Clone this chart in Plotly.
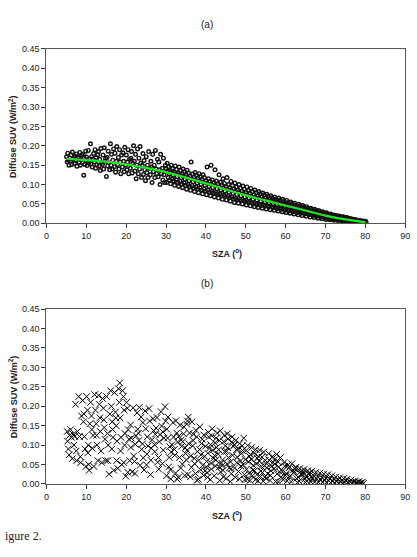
import plotly.graph_objects as go

# ---------------- Panel (a): diffuse SUV vs SZA (open circles) ----------------
sza_a = [
 5.05,5.2,5.35,5.5,5.65,5.85, 6.05,6.2,6.35,6.5,6.65,6.85, 7.05,7.2,7.35,7.5,7.65,7.85,
 8.05,8.2,8.35,8.5,8.65,8.85, 9.05,9.2,9.35,9.5,9.65,9.85, 10.05,10.2,10.35,10.5,10.65,10.85,
 11.05,11.2,11.35,11.5,11.65,11.85, 12.05,12.2,12.35,12.5,12.65,12.85, 13.05,13.2,13.35,13.5,13.65,13.85,
 14.05,14.2,14.35,14.5,14.65,14.85, 15.05,15.2,15.35,15.5,15.65,15.85, 16.05,16.2,16.35,16.5,16.65,16.85,
 17.05,17.2,17.35,17.5,17.65,17.85, 18.05,18.2,18.35,18.5,18.65,18.85, 19.05,19.2,19.35,19.5,19.65,19.85,
 20.05,20.2,20.35,20.5,20.65,20.85, 21.05,21.2,21.35,21.5,21.65,21.85, 22.05,22.2,22.35,22.5,22.65,22.85,
 23.05,23.2,23.35,23.5,23.65,23.85, 24.05,24.2,24.35,24.5,24.65,24.85, 25.05,25.2,25.35,25.5,25.65,25.85,
 26.05,26.2,26.35,26.5,26.65,26.85, 27.05,27.2,27.35,27.5,27.65,27.85, 28.05,28.2,28.35,28.5,28.65,28.85,
 29.05,29.2,29.35,29.5,29.65,29.85,
 30.05,30.55,30.3,30.8,30.15,30.65,30.4,30.9, 31.05,31.55,31.3,31.8,31.15,31.65,31.4,31.9,
 32.05,32.55,32.3,32.8,32.15,32.65,32.4,32.9, 33.05,33.55,33.3,33.8,33.15,33.65,33.4,33.9,
 34.05,34.55,34.3,34.8,34.15,34.65,34.4,34.9, 35.05,35.55,35.3,35.8,35.15,35.65,35.4,35.9,
 36.05,36.55,36.3,36.8,36.15,36.65,36.4,36.9, 37.05,37.55,37.3,37.8,37.15,37.65,37.4,37.9,
 38.05,38.55,38.3,38.8,38.15,38.65,38.4,38.9, 39.05,39.55,39.3,39.8,39.15,39.65,39.4,39.9,
 40.05,40.55,40.3,40.8,40.15,40.65,40.4,40.9, 41.05,41.55,41.3,41.8,41.15,41.65,41.4,41.9,
 42.05,42.55,42.3,42.8,42.15,42.65,42.4,42.9, 43.05,43.55,43.3,43.8,43.15,43.65,43.4,43.9,
 44.05,44.55,44.3,44.8,44.15,44.65,44.4,44.9, 45.05,45.55,45.3,45.8,45.15,45.65,45.4,45.9,
 46.05,46.55,46.3,46.8,46.15,46.65,46.4,46.9, 47.05,47.55,47.3,47.8,47.15,47.65,47.4,47.9,
 48.05,48.55,48.3,48.8,48.15,48.65,48.4,48.9, 49.05,49.55,49.3,49.8,49.15,49.65,49.4,49.9,
 50.05,50.55,50.3,50.8,50.15,50.65,50.4,50.9, 51.05,51.55,51.3,51.8,51.15,51.65,51.4,51.9,
 52.05,52.55,52.3,52.8,52.15,52.65,52.4,52.9, 53.05,53.55,53.3,53.8,53.15,53.65,53.4,53.9,
 54.05,54.55,54.3,54.8,54.15,54.65,54.4,54.9, 55.05,55.55,55.3,55.8,55.15,55.65,55.4,55.9,
 56.05,56.55,56.3,56.8,56.15,56.65,56.4,56.9, 57.05,57.55,57.3,57.8,57.15,57.65,57.4,57.9,
 58.05,58.55,58.3,58.8,58.15,58.65,58.4,58.9, 59.05,59.55,59.3,59.8,59.15,59.65,59.4,59.9,
 60.05,60.55,60.3,60.8,60.15,60.65,60.4,60.9, 61.05,61.55,61.3,61.8,61.15,61.65,61.4,61.9,
 62.05,62.55,62.3,62.8,62.15,62.65,62.4,62.9, 63.05,63.55,63.3,63.8,63.15,63.65,63.4,63.9,
 64.05,64.55,64.3,64.8,64.15,64.65,64.4,64.9, 65.05,65.55,65.3,65.8,65.15,65.65,65.4,65.9,
 66.05,66.55,66.3,66.8,66.15,66.65,66.4,66.9, 67.05,67.55,67.3,67.8,67.15,67.65,67.4,67.9,
 68.05,68.55,68.3,68.8,68.15,68.65,68.4,68.9, 69.05,69.55,69.3,69.8,69.15,69.65,69.4,69.9,
 70.05,70.55,70.3,70.8,70.15,70.65,70.4,70.9, 71.05,71.55,71.3,71.8,71.15,71.65,71.4,71.9,
 72.05,72.55,72.3,72.8,72.15,72.65,72.4,72.9, 73.05,73.55,73.3,73.8,73.15,73.65,73.4,73.9,
 74.05,74.55,74.3,74.8,74.15,74.65,74.4,74.9, 75.05,75.55,75.3,75.8,75.15,75.65,75.4,75.9,
 76.05,76.55,76.3,76.8,76.15,76.65,76.4,76.9, 77.05,77.55,77.3,77.8,77.15,77.65,77.4,77.9,
 78.05,78.55,78.3,78.8,78.15,78.65,78.4,78.9, 79.05,79.55,79.3,79.8,79.15,79.65,79.4,79.9,
 80.0,80.1,80.2,
]
suv_a = [
 .172,.158,.181,.163,.150,.168, .160,.176,.152,.184,.165,.170, .155,.173,.162,.179,.147,.168,
 .170,.157,.183,.150,.164,.176, .158,.178,.124,.168,.152,.186, .171,.149,.160,.188,.156,.166,
 .205,.153,.172,.145,.166,.180, .158,.190,.142,.170,.151,.176, .185,.148,.165,.136,.193,.157,
 .152,.176,.140,.195,.160,.168, .121,.170,.148,.186,.156,.138, .205,.150,.178,.140,.163,.192,
 .146,.181,.132,.160,.198,.152, .170,.140,.190,.158,.128,.176, .145,.182,.160,.133,.196,.150,
 .176,.138,.158,.190,.128,.165, .142,.168,.185,.130,.155,.200, .160,.135,.178,.115,.150,.192,
 .128,.168,.140,.198,.155,.118, .150,.180,.126,.162,.138,.110, .172,.131,.150,.118,.185,.142,
 .125,.160,.145,.105,.178,.133, .150,.118,.188,.140,.128,.165, .120,.158,.138,.100,.178,.128,
 .142,.112,.168,.125,.105,.150,
 .140,.118,.155,.128,.105,.146,.135,.112, .136,.115,.150,.124,.102,.142,.131,.110,
 .132,.112,.148,.120,.098,.139,.128,.106, .130,.108,.145,.118,.095,.136,.125,.102,
 .128,.104,.140,.114,.092,.133,.122,.098, .125,.100,.137,.110,.088,.130,.118,.095,
 .122,.097,.158,.107,.085,.127,.115,.092, .119,.094,.131,.104,.082,.124,.112,.089,
 .116,.091,.128,.101,.079,.121,.109,.086, .113,.088,.125,.098,.076,.118,.106,.083,
 .110,.085,.145,.095,.074,.115,.103,.080, .108,.082,.150,.092,.071,.112,.100,.078,
 .105,.079,.138,.089,.068,.109,.097,.075, .102,.076,.125,.086,.065,.106,.094,.072,
 .098,.073,.115,.083,.062,.103,.091,.069, .095,.070,.118,.080,.060,.100,.088,.066,
 .092,.067,.108,.077,.057,.097,.085,.063, .089,.064,.104,.074,.054,.094,.082,.060,
 .086,.061,.100,.071,.052,.091,.079,.058, .083,.058,.096,.068,.050,.088,.076,.055,
 .080,.056,.094,.065,.047,.085,.073,.053, .077,.053,.090,.062,.045,.082,.070,.050,
 .074,.051,.086,.060,.043,.079,.068,.048, .071,.049,.082,.057,.041,.076,.065,.046,
 .068,.047,.078,.055,.039,.073,.062,.044, .065,.045,.075,.052,.037,.070,.060,.042,
 .062,.043,.071,.050,.035,.066,.057,.040, .060,.041,.068,.047,.034,.063,.055,.038,
 .057,.039,.065,.045,.032,.060,.052,.036, .054,.037,.062,.043,.030,.057,.050,.034,
 .051,.035,.059,.040,.028,.054,.047,.032, .048,.033,.055,.038,.026,.051,.044,.030,
 .045,.031,.052,.036,.024,.048,.042,.028, .042,.029,.049,.033,.022,.045,.039,.026,
 .040,.027,.046,.031,.020,.042,.037,.024, .037,.025,.043,.029,.018,.039,.034,.022,
 .034,.023,.039,.026,.016,.036,.031,.020, .031,.021,.036,.024,.015,.033,.029,.018,
 .028,.019,.033,.022,.013,.030,.026,.016, .026,.017,.030,.020,.012,.027,.024,.014,
 .023,.015,.027,.018,.010,.024,.021,.012, .021,.013,.024,.016,.009,.022,.019,.011,
 .019,.012,.021,.014,.008,.020,.017,.010, .017,.010,.019,.012,.007,.018,.015,.009,
 .015,.009,.017,.011,.006,.016,.013,.008, .013,.007,.015,.009,.005,.014,.011,.006,
 .011,.006,.012,.007,.004,.011,.009,.005, .009,.005,.010,.006,.003,.009,.007,.004,
 .007,.004,.008,.005,.002,.007,.006,.003, .005,.003,.006,.004,.002,.005,.004,.003,
 .003,.005,.002,
]

# fitted curve (green) for panel (a)
sza_fit = [5, 10, 15, 20, 25, 30, 35, 40, 45, 50, 55, 60, 65, 70, 75, 80]
suv_fit = [.166, .163, .159, .152, .143, .132, .118, .103, .087, .072, .059, .046, .033, .020, .010, .003]

# ---------------- Panel (b): diffuse SUV vs SZA (crosses) ----------------
sza_b = [
 5.2,5.5,5.8,5.3,5.7, 6.1,6.3,6.5,6.7,6.9, 7.1,7.3,7.5,7.8,7.6, 8.1,8.3,8.5,8.8,8.6,
 9.1,9.3,9.5,9.7,9.9,9.4, 10.1,10.3,10.5,10.7,10.9,10.4,10.6, 11.1,11.3,11.5,11.7,11.9,11.4,
 12.1,12.3,12.5,12.7,12.9,12.6, 13.1,13.3,13.5,13.7,13.9,13.4, 14.1,14.3,14.5,14.7,14.9,14.4,
 15.1,15.3,15.5,15.7,15.9,15.4, 16.1,16.3,16.5,16.7,16.9,16.4,16.6, 17.1,17.3,17.5,17.7,17.9,17.4,17.6,
 18.1,18.4,18.3,18.5,18.7,18.9,18.6, 19.1,19.3,19.5,19.7,19.9,19.4,19.6, 20.1,20.3,20.5,20.7,20.9,20.4,
 21.75,21.3,21.9,21.1,21.5,21.2, 22.75,22.3,22.9,22.1,22.5,22.2, 23.75,23.3,23.9,23.1,23.5,23.2,
 24.75,24.3,24.9,24.1,24.5,24.2, 25.75,25.3,25.9,25.1,25.5,25.2, 26.75,26.3,26.9,26.1,26.5,26.2,
 27.75,27.3,27.9,27.1,27.5,27.2, 28.75,28.3,28.9,28.1,28.5,28.2, 29.75,29.3,29.9,29.1,29.5,29.2,
 30.5,30.9,30.2,30.7,30.4,30.1,30.8, 31.75,31.3,31.9,31.1,31.5,31.2, 32.5,32.9,32.2,32.7,32.4,32.1,32.8,
 33.5,33.9,33.2,33.7,33.4,33.1,33.8, 34.5,34.9,34.2,34.7,34.4,34.1,34.8, 35.6,35.2,35.9,35.4,35.7,35.1,35.5,35.3,
 36.5,36.9,36.2,36.7,36.4,36.1,36.8, 37.5,37.9,37.2,37.7,37.4,37.1,37.8, 38.5,38.9,38.2,38.7,38.4,38.1,38.8,
 39.5,39.9,39.2,39.7,39.4,39.1,39.8, 40.6,40.2,40.9,40.4,40.7,40.1,40.5,40.3, 41.6,41.2,41.9,41.4,41.7,41.1,41.5,41.3,
 42.6,42.2,42.9,42.4,42.7,42.1,42.5,42.3, 43.6,43.2,43.9,43.4,43.7,43.1,43.5,43.3, 44.6,44.2,44.9,44.4,44.7,44.1,44.5,44.3,
 45.6,45.2,45.9,45.4,45.7,45.1,45.5,45.3, 46.6,46.2,46.9,46.4,46.7,46.1,46.5,46.3, 47.5,47.9,47.2,47.7,47.4,47.1,47.8,
 48.5,48.9,48.2,48.7,48.4,48.1,48.8, 49.5,49.9,49.2,49.7,49.4,49.1,49.8, 50.5,50.9,50.2,50.7,50.4,50.1,50.8,
 51.5,51.9,51.2,51.7,51.4,51.1,51.8, 52.5,52.9,52.2,52.7,52.4,52.1,52.8, 53.5,53.9,53.2,53.7,53.4,53.1,53.8,
 54.5,54.9,54.2,54.7,54.4,54.1,54.8, 55.75,55.3,55.9,55.1,55.5,55.2, 56.75,56.3,56.9,56.1,56.5,56.2,
 57.75,57.3,57.9,57.1,57.5,57.2, 58.75,58.3,58.9,58.1,58.5,58.2, 59.6,59.2,59.8,59.4,59.95,
 60.6,60.2,60.8,60.4,60.95, 61.6,61.2,61.8,61.4,61.95, 62.6,62.2,62.8,62.4,62.95,
 63.6,63.2,63.8,63.4,63.95, 64.6,64.2,64.8,64.4,64.95, 65.6,65.2,65.8,65.4,65.95,
 66.6,66.1,66.8,66.3, 67.6,67.1,67.8,67.3, 68.6,68.1,68.8,68.3, 69.6,69.1,69.8,69.3,
 70.6,70.1,70.8,70.3, 71.6,71.1,71.8,71.3, 72.6,72.1,72.8,72.3, 73.6,73.1,73.8,73.3,
 74.6,74.1,74.8,74.3, 75.4,75.1,75.7, 76.4,76.1,76.7, 77.4,77.1,77.7, 78.4,78.1,78.7, 79.3,79.0,79.5,
]
suv_b = [
 .135,.090,.125,.110,.075, .140,.120,.065,.128,.100, .122,.205,.085,.135,.060, .225,.122,.070,.175,.055,
 .215,.160,.122,.090,.045,.180, .225,.190,.100,.035,.155,.080,.050, .210,.175,.092,.125,.045,.140,
 .230,.190,.155,.100,.060,.125, .228,.205,.135,.085,.055,.170, .220,.195,.145,.115,.060,.165,
 .225,.130,.100,.025,.180,.060, .240,.200,.160,.120,.035,.090,.140, .235,.185,.150,.110,.040,.170,.060,
 .245,.260,.210,.170,.120,.050,.085, .240,.225,.190,.130,.020,.055,.100, .210,.195,.140,.115,.060,.030,
 .196,.118,.072,.152,.031,.094, .183,.102,.141,.058,.124,.027, .172,.197,.089,.131,.048,.112,
 .188,.067,.142,.103,.036,.158, .194,.121,.162,.049,.098,.077, .168,.092,.137,.024,.114,.061,
 .171,.128,.056,.101,.144,.083, .186,.109,.149,.068,.127,.038, .199,.087,.162,.052,.118,.134,
 .172,.096,.141,.044,.118,.021,.068, .158,.082,.121,.036,.101,.013, .163,.108,.074,.131,.028,.089,.012,
 .151,.097,.123,.041,.068,.017,.113, .147,.078,.109,.022,.129,.051,.093, .172,.154,.131,.162,.104,.062,.024,.087,
 .160,.128,.072,.098,.043,.018,.112, .138,.083,.052,.121,.027,.066,.009, .147,.104,.061,.036,.089,.012,.075,
 .126,.097,.048,.071,.022,.115,.034, .133,.058,.092,.017,.121,.044,.079,.029, .142,.101,.066,.038,.087,.011,.124,.053,
 .118,.073,.131,.046,.094,.021,.062,.106, .137,.088,.054,.112,.031,.077,.009,.043, .125,.062,.098,.018,.083,.047,.109,.035,
 .116,.084,.041,.129,.068,.014,.093,.052, .121,.057,.097,.026,.074,.006,.108,.039, .112,.069,.041,.088,.017,.101,.055,
 .104,.078,.032,.059,.013,.091,.046, .118,.063,.086,.024,.049,.098,.011, .099,.071,.038,.057,.012,.086,.027,
 .094,.048,.076,.021,.063,.009,.036, .089,.066,.034,.052,.011,.079,.024, .087,.045,.071,.019,.058,.008,.033,
 .082,.061,.029,.047,.007,.069,.018, .078,.042,.061,.014,.027,.052, .071,.034,.056,.009,.046,.022,
 .076,.051,.026,.039,.006,.062, .068,.044,.018,.057,.031,.005, .055,.033,.046,.011,.022,
 .049,.027,.041,.008,.018, .052,.021,.036,.006,.029, .043,.031,.014,.038,.004,
 .040,.017,.032,.007,.025, .037,.024,.012,.030,.004, .034,.019,.028,.008,.013,
 .033,.023,.014,.006, .030,.021,.013,.005, .028,.019,.011,.004, .026,.017,.010,.004,
 .024,.015,.009,.003, .021,.013,.008,.003, .018,.012,.007,.002, .016,.010,.006,.002,
 .014,.009,.005,.002, .012,.008,.004, .010,.006,.003, .008,.005,.002, .006,.004,.002, .005,.003,.001,
]

x_ticks = [0, 10, 20, 30, 40, 50, 60, 70, 80, 90]
y_ticks = [0.00, 0.05, 0.10, 0.15, 0.20, 0.25, 0.30, 0.35, 0.40, 0.45]
y_tick_text = [f"{v:.2f}" for v in y_ticks]
panel_titles = ["(a)", "(b)"]
y_title = "Diffuse SUV (W/m<sup>2</sup>)"
x_title = "SZA (<sup>o</sup>)"
caption = "igure 2."

W, H = 417, 557
FONT = "Liberation Sans, Arial, sans-serif"

fig = go.Figure()

fig.add_trace(go.Scatter(
    x=sza_a, y=suv_a, mode="markers", xaxis="x", yaxis="y",
    marker=dict(symbol="circle-open", size=3.6, color="#111", line=dict(width=1.4, color="#111")),
    showlegend=False, hoverinfo="skip"))
fig.add_trace(go.Scatter(
    x=sza_fit, y=suv_fit, mode="lines", xaxis="x", yaxis="y",
    line=dict(color="#22e622", width=2.2, shape="spline"),
    showlegend=False, hoverinfo="skip"))
fig.add_trace(go.Scatter(
    x=sza_b, y=suv_b, mode="markers", xaxis="x2", yaxis="y2",
    marker=dict(symbol="x-thin-open", size=6.5, color="black", line=dict(width=1.0, color="black")),
    showlegend=False, hoverinfo="skip"))

# plot areas in pixels -> paper fractions
ax_l, ax_r = 44.3 / W, 410.0 / W
a_top, a_bot = 1 - 44.7 / H, 1 - 222.3 / H
b_top, b_bot = 1 - 309.7 / H, 1 - 487.7 / H

def xax(domain, anchor):
    return dict(domain=domain, anchor=anchor, range=[0, 90], tickvals=x_ticks,
                ticks="outside", ticklen=4, tickwidth=1, tickcolor="#333",
                showline=True, linecolor="#555", linewidth=1, mirror=True,
                showgrid=False, zeroline=False,
                tickfont=dict(family=FONT, size=9, color="#222"))

def yax(domain, anchor):
    return dict(domain=domain, anchor=anchor, range=[0, 0.45], tickvals=y_ticks,
                ticktext=y_tick_text,
                ticks="outside", ticklen=4, tickwidth=1, tickcolor="#333",
                showline=True, linecolor="#555", linewidth=1, mirror=True,
                showgrid=False, zeroline=False,
                tickfont=dict(family=FONT, size=9, color="#222"))

fig.update_layout(
    width=W, height=H, margin=dict(l=0, r=0, t=0, b=0),
    paper_bgcolor="white", plot_bgcolor="white",
    xaxis=xax([ax_l, ax_r], "y"), yaxis=yax([a_bot, a_top], "x"),
    xaxis2=xax([ax_l, ax_r], "y2"), yaxis2=yax([b_bot, b_top], "x2"),
)

ann = []
for title, ycen_px, xlab_px, mid_px in [(panel_titles[0], 20, 253, 133.5),
                                         (panel_titles[1], 284, 519, 398.7)]:
    ann.append(dict(text=title, x=208 / W, y=1 - ycen_px / H, xref="paper", yref="paper",
                    showarrow=False, xanchor="center", yanchor="middle",
                    font=dict(family=FONT, size=10, color="#222")))
    ann.append(dict(text="<b>" + x_title + "</b>", x=228 / W, y=1 - xlab_px / H,
                    xref="paper", yref="paper", showarrow=False,
                    xanchor="center", yanchor="middle",
                    font=dict(family=FONT, size=9, color="#222")))
    ann.append(dict(text="<b>" + y_title + "</b>", x=10 / W, y=1 - mid_px / H,
                    xref="paper", yref="paper", showarrow=False, textangle=-90,
                    xanchor="center", yanchor="middle",
                    font=dict(family=FONT, size=9, color="#222")))
ann.append(dict(text=caption, x=0, y=1 - 541 / H, xref="paper", yref="paper",
                showarrow=False, xanchor="left", yanchor="middle",
                font=dict(family="Liberation Serif, Times New Roman, serif", size=12, color="#222")))
fig.update_layout(annotations=ann)

fig.write_html("out.html")
